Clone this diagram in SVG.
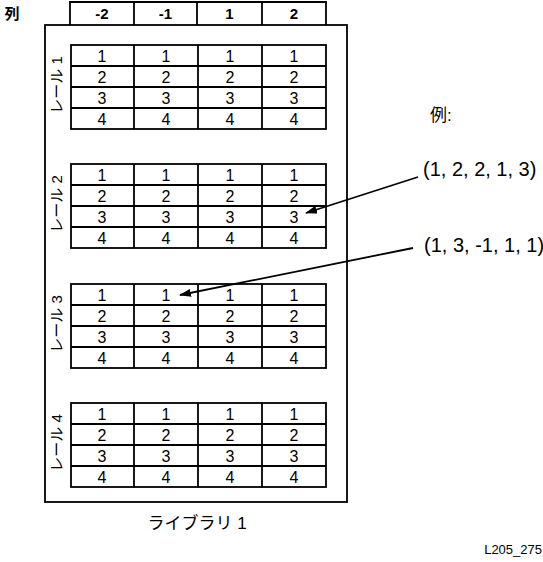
<svg xmlns="http://www.w3.org/2000/svg" width="543" height="562" viewBox="0 0 543 562">
<defs>
<style>
.ln{fill:none;stroke:#000;stroke-width:1.8}
.t{font-family:"Liberation Sans","Noto Sans CJK JP",sans-serif;font-size:16px;fill:#000;text-anchor:middle}
.hb{font-family:"Liberation Sans","Noto Sans CJK JP",sans-serif;font-size:15px;font-weight:bold;fill:#000;text-anchor:middle}
.lab{font-family:"Liberation Sans","Noto Sans CJK JP",sans-serif;font-size:15px;fill:#000;text-anchor:middle}
.big{font-family:"Liberation Sans","Noto Sans CJK JP",sans-serif;font-size:20px;fill:#000}
.conn{fill:none;stroke:#000;stroke-width:1.8}
</style>
<marker id="ah" markerWidth="12" markerHeight="8" refX="11" refY="4" orient="auto" markerUnits="userSpaceOnUse">
<path d="M0,0 L12,4 L0,8 Z" fill="#000"/>
</marker>
<g id="grid">
<rect class="ln" x="71" y="0" width="255" height="84"/>
<line class="ln" x1="71" y1="21" x2="326" y2="21"/>
<line class="ln" x1="71" y1="42" x2="326" y2="42"/>
<line class="ln" x1="71" y1="63" x2="326" y2="63"/>
<line class="ln" x1="134" y1="0" x2="134" y2="84"/>
<line class="ln" x1="198" y1="0" x2="198" y2="84"/>
<line class="ln" x1="262" y1="0" x2="262" y2="84"/>
<g class="t">
<text x="102" y="16.5">1</text><text x="166" y="16.5">1</text><text x="230" y="16.5">1</text><text x="294" y="16.5">1</text>
<text x="102" y="37.5">2</text><text x="166" y="37.5">2</text><text x="230" y="37.5">2</text><text x="294" y="37.5">2</text>
<text x="102" y="58.5">3</text><text x="166" y="58.5">3</text><text x="230" y="58.5">3</text><text x="294" y="58.5">3</text>
<text x="102" y="79.5">4</text><text x="166" y="79.5">4</text><text x="230" y="79.5">4</text><text x="294" y="79.5">4</text>
</g>
</g>
</defs>

<g id="header">
<text x="12" y="19" class="hb">列</text>
<polyline class="ln" points="70,25 70,2 326,2 326,25"/>
<line class="ln" x1="134" y1="2" x2="134" y2="25"/>
<line class="ln" x1="197" y1="2" x2="197" y2="25"/>
<line class="ln" x1="262" y1="2" x2="262" y2="25"/>
<text x="102" y="19" class="hb">-2</text>
<text x="165.5" y="19" class="hb">-1</text>
<text x="229.5" y="19" class="hb">1</text>
<text x="294" y="19" class="hb">2</text>
</g>

<g id="library">
<rect class="ln" x="45" y="25" width="302" height="477"/>
<text x="197" y="529" font-family="Liberation Sans, Noto Sans CJK JP, sans-serif" font-size="17" text-anchor="middle">ライブラリ 1</text>
</g>

<g id="rail1">
<use href="#grid" y="45"/>
<text class="lab" transform="translate(62,85) rotate(-90)">レール 1</text>
</g>
<g id="rail2">
<use href="#grid" y="164"/>
<text class="lab" transform="translate(62,204) rotate(-90)">レール 2</text>
</g>
<g id="rail3">
<use href="#grid" y="284"/>
<text class="lab" transform="translate(62,324) rotate(-90)">レール 3</text>
</g>
<g id="rail4">
<use href="#grid" y="403"/>
<text class="lab" transform="translate(62,443) rotate(-90)">レール 4</text>
</g>

<g id="examples">
<text x="430" y="121" font-family="Liberation Sans, Noto Sans CJK JP, sans-serif" font-size="17">例:</text>
<text x="423" y="176" class="big">(1, 2, 2, 1, 3)</text>
<text x="424" y="252" class="big">(1, 3, -1, 1, 1)</text>
</g>

<g id="connectors">
<line class="conn" x1="418" y1="177" x2="306" y2="213" marker-end="url(#ah)"/>
<line class="conn" x1="413" y1="248" x2="180" y2="295" marker-end="url(#ah)"/>
</g>

<text x="542" y="554" font-family="Liberation Sans, Arial, sans-serif" font-size="13" text-anchor="end">L205_275</text>
</svg>
